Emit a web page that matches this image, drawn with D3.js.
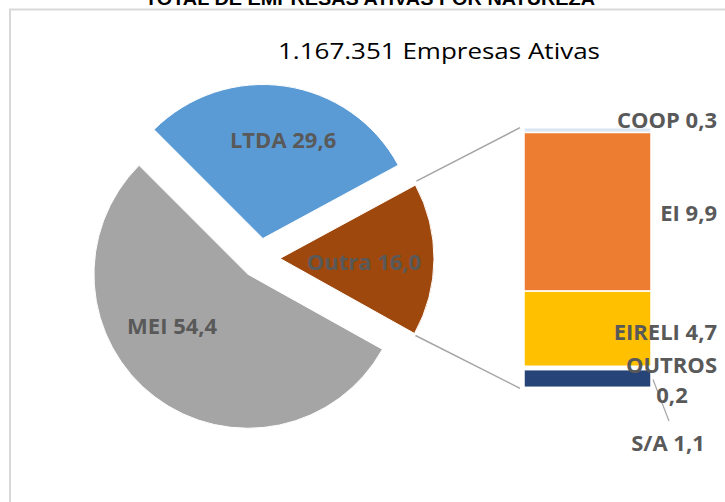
<!DOCTYPE html>
<html>
<head>
<meta charset="utf-8">
<script src="https://cdn.jsdelivr.net/npm/d3@7"></script>
<style>
    body { margin: 0; background: #fff; }
    svg { display: block; }
</style>
</head>
<body>
<div id="chart"></div>
<script>
// main pie
const pieNames = ["LTDA", "Outra", "MEI"];
const pieValues = [29.6, 16.0, 54.4];
const pieLabels = ["LTDA 29,6", "Outra 16,0", "MEI 54,4"];

// secondary stacked bar (breakdown of "Outra"), top to bottom
const barNames = ["COOP", "EI", "EIRELI", "OUTROS", "S/A"];
const barValues = [0.3, 9.9, 4.7, 0.2, 1.1];

const chartTitle = "TOTAL DE EMPRESAS ATIVAS POR NATUREZA";
const subTitle = "1.167.351 Empresas Ativas";

function draw() {
    const width = 725,
        height = 502;

    const svg = d3.select("#chart")
        .append("svg")
        .attr("width", width)
        .attr("height", height);

    const labelFont = "'Open Sans', sans-serif";
    const labelColor = "#595959";

    // chart area border
    svg.append("rect")
        .attr("x", 10)
        .attr("y", 9.5)
        .attr("width", 800)
        .attr("height", 600)
        .attr("fill", "none")
        .attr("stroke", "#d9d9d9")
        .attr("stroke-width", 2);

    // title (mostly cut off at the top)
    svg.append("text")
        .attr("x", 370)
        .attr("y", 5)
        .attr("text-anchor", "middle")
        .attr("font-family", "'Liberation Sans', Arial, sans-serif")
        .attr("font-weight", "bold")
        .attr("font-size", 19)
        .attr("textLength", 450)
        .attr("lengthAdjust", "spacingAndGlyphs")
        .attr("fill", "#000")
        .text(chartTitle);

    svg.append("text")
        .attr("x", 439)
        .attr("y", 59)
        .attr("text-anchor", "middle")
        .attr("font-family", labelFont)
        .attr("font-size", 21)
        .attr("textLength", 322)
        .attr("lengthAdjust", "spacingAndGlyphs")
        .attr("fill", "#000")
        .text(subTitle);

    // pie
    const cx = 260, cy = 258.3;
    const radius = 154, explode = 20;
    const pieColor = d3.scaleOrdinal()
        .domain(pieNames)
        .range(["#5b9bd5", "#9e480e", "#a5a5a5"]);

    const pie = d3.pie()
        .sort(null)
        .startAngle(-Math.PI / 4)
        .endAngle(-Math.PI / 4 + 2 * Math.PI);
    const arcs = pie(pieValues);
    const arc = d3.arc().innerRadius(0).outerRadius(radius);

    const shift = d => {
        const a = (d.startAngle + d.endAngle) / 2;
        return [cx + explode * Math.sin(a), cy - explode * Math.cos(a)];
    };

    const slices = svg.append("g");
    slices.selectAll("path")
        .data(arcs)
        .join("path")
        .attr("transform", d => `translate(${ shift(d) })`)
        .attr("d", arc)
        .attr("fill", (d, i) => pieColor(pieNames[i]))
        .attr("stroke", "#fff")
        .attr("stroke-width", 1);

    // label positions: along mid-angle, with small Excel-like nudges
    const labelRadius = { LTDA: 100, Outra: 84, MEI: 92 };
    const labelTurn = { LTDA: 3.4, Outra: 2, MEI: 18.4 };
    slices.selectAll("text")
        .data(arcs)
        .join("text")
        .attr("x", (d, i) => {
            const a = (d.startAngle + d.endAngle) / 2 + labelTurn[pieNames[i]] * Math.PI / 180;
            return shift(d)[0] + labelRadius[pieNames[i]] * Math.sin(a);
        })
        .attr("y", (d, i) => {
            const a = (d.startAngle + d.endAngle) / 2 + labelTurn[pieNames[i]] * Math.PI / 180;
            return shift(d)[1] - labelRadius[pieNames[i]] * Math.cos(a);
        })
        .attr("dy", "0.36em")
        .attr("text-anchor", "middle")
        .attr("font-family", labelFont)
        .attr("font-weight", "bold")
        .attr("font-size", 22)
        .attr("fill", labelColor)
        .text((d, i) => pieLabels[i]);

    // stacked bar
    const barX = 524, barW = 127;
    let acc = 0;
    const stacked = barValues.map((v, i) => {
        const s = { name: barNames[i], value: v, y0: acc, y1: acc + v };
        acc += v;
        return s;
    });
    const yScale = d3.scaleLinear()
        .domain([0, acc])
        .range([127.7, 387.3]);
    const barColor = d3.scaleOrdinal()
        .domain(barNames)
        .range(["#dae6f4", "#ed7d31", "#ffc000", "#ffffff", "#264478"]);

    // connector lines from the "Outra" slice to the bar
    const outra = arcs[1];
    const oc = shift(outra);
    const top = [oc[0] + radius * Math.sin(outra.startAngle), oc[1] - radius * Math.cos(outra.startAngle) - 4];
    const bottom = [oc[0] + radius * Math.sin(outra.endAngle), oc[1] - radius * Math.cos(outra.endAngle) + 2];
    svg.append("line")
        .attr("x1", top[0] + 1).attr("y1", top[1])
        .attr("x2", barX - 4).attr("y2", yScale(0))
        .attr("stroke", "#a5a5a5").attr("stroke-width", 1.5);
    svg.append("line")
        .attr("x1", bottom[0] + 1).attr("y1", bottom[1])
        .attr("x2", barX - 4).attr("y2", yScale(acc) + 1)
        .attr("stroke", "#a5a5a5").attr("stroke-width", 1.5);

    svg.append("g")
        .selectAll("rect")
        .data(stacked)
        .join("rect")
        .attr("x", barX)
        .attr("y", d => yScale(d.y0))
        .attr("width", barW)
        .attr("height", d => yScale(d.y1) - yScale(d.y0))
        .attr("fill", d => barColor(d.name))
        .attr("stroke", "#fff")
        .attr("stroke-width", 1.5);

    // bar labels
    const barLabelPos = {
        COOP: [[717, 120, "end", "COOP 0,3"]],
        EI: [[717, 213, "end", "EI 9,9"]],
        EIRELI: [[717, 332, "end", "EIRELI 4,7"]],
        OUTROS: [[717, 365, "end", "OUTROS"], [672, 395, "middle", "0,2"]],
        "S/A": [[668, 443, "middle", "S/A 1,1"]]
    };
    const labelRows = stacked.flatMap(d => barLabelPos[d.name]);

    // leader line for S/A
    const sa = stacked[4];
    svg.append("line")
        .attr("x1", barX + barW + 2).attr("y1", (yScale(sa.y0) + yScale(sa.y1)) / 2 + 1)
        .attr("x2", 669).attr("y2", 421)
        .attr("stroke", "#a5a5a5").attr("stroke-width", 1.2);

    svg.append("g")
        .selectAll("text")
        .data(labelRows)
        .join("text")
        .attr("x", d => d[0])
        .attr("y", d => d[1])
        .attr("dy", "0.36em")
        .attr("text-anchor", d => d[2])
        .attr("font-family", labelFont)
        .attr("font-weight", "bold")
        .attr("font-size", 22)
        .attr("fill", labelColor)
        .text(d => d[3]);
}

document.addEventListener("DOMContentLoaded", draw);
</script>
</body>
</html>
